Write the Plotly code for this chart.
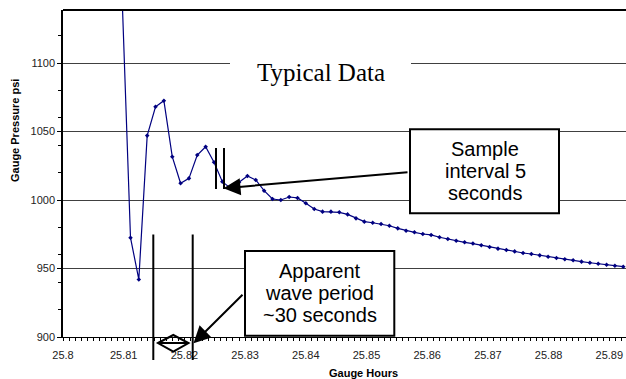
import plotly.graph_objects as go

# ---- data ----
gauge_hours = [
    25.80974, 25.81112, 25.81249, 25.81387, 25.81524, 25.81662, 25.81800, 25.81937,
    25.82075, 25.82212, 25.82350, 25.82488, 25.82625, 25.82763, 25.82900, 25.83038,
    25.83176, 25.83313, 25.83451, 25.83588, 25.83726, 25.83864, 25.84001, 25.84139,
    25.84276, 25.84414, 25.84552, 25.84689, 25.84827, 25.84964, 25.85102, 25.85240,
    25.85377, 25.85515, 25.85652, 25.85790, 25.85928, 25.86065, 25.86203, 25.86340,
    25.86478, 25.86616, 25.86753, 25.86891, 25.87028, 25.87166, 25.87304, 25.87441,
    25.87579, 25.87716, 25.87854, 25.87992, 25.88129, 25.88267, 25.88404, 25.88542,
    25.88680, 25.88817, 25.88955, 25.89092, 25.89230,
]
gauge_pressure = [
    1148, 972.5, 942, 1047, 1068, 1072.5, 1031.6, 1012.2,
    1015.8, 1032.8, 1038.9, 1027.5, 1013.4, 1008.5, 1013, 1017.5,
    1014.6, 1006.8, 1000.7, 1000, 1002.2, 1001.5, 997.6, 993.4,
    991.5, 991.5, 991, 989.5, 986.6, 984.2, 983.4, 982.5,
    981.2, 979.3, 977.6, 976.4, 975.2, 974.5, 972.8, 971.5,
    970.3, 969.1, 968.2, 967, 965.7, 964.5, 963.5, 962.5,
    961.3, 960.6, 959.6, 958.6, 957.7, 956.7, 956, 955,
    954.2, 953.5, 952.8, 952, 951.3,
]
x_tick_vals = [25.8, 25.81, 25.82, 25.83, 25.84, 25.85, 25.86, 25.87, 25.88, 25.89]
x_tick_text = ["25.8", "25.81", "25.82", "25.83", "25.84", "25.85", "25.86", "25.87", "25.88", "25.89"]
y_tick_vals = [900, 950, 1000, 1050, 1100]

W, H = 626, 379
ML, MR, MT, MB = 63, 0, 10, 42
PW, PH = W - ML - MR, H - MT - MB


def px(x):
    return (x - ML) / PW


def py(y):
    return (H - MB - y) / PH


fig = go.Figure()
fig.add_trace(go.Scatter(
    x=gauge_hours, y=gauge_pressure, mode="lines+markers",
    line=dict(color="#000080", width=1.2),
    marker=dict(symbol="diamond", size=3.5, color="#000080"),
    cliponaxis=True, showlegend=False,
))

axis_font = dict(family="Liberation Sans, Arial", size=11, color="#222")
fig.update_layout(
    width=W, height=H, margin=dict(l=ML, r=MR, t=MT, b=MB),
    plot_bgcolor="white", paper_bgcolor="white",
    xaxis=dict(range=[25.8, 25.8 + PW / 6070], tickvals=x_tick_vals, ticktext=x_tick_text,
               showgrid=False, zeroline=False, showline=True, linecolor="black", linewidth=1,
               ticks="outside", ticklen=3, tickcolor="black", tickfont=axis_font,
               ticklabelstandoff=5,
               minor=dict(dtick=0.001, tick0=25.8, ticks="outside", ticklen=3, tickcolor="black")),
    yaxis=dict(range=[900, 900 + PH / 1.37], tickvals=y_tick_vals,
               showgrid=True, gridcolor="#404040", gridwidth=1, zeroline=False,
               showline=True, linecolor="black", linewidth=1.5,
               ticks="outside", ticklen=4, tickcolor="black", tickfont=axis_font,
               minor=dict(dtick=20, tick0=900, ticks="outside", ticklen=3, tickcolor="black", showgrid=False)),
)

shapes = []
# top frame line
shapes.append(dict(type="line", xref="paper", yref="paper", x0=0, x1=1, y0=1, y1=1,
                   line=dict(color="black", width=2)))
# white background behind "Typical Data"
shapes.append(dict(type="rect", xref="paper", yref="paper", x0=px(230), x1=px(411), y0=py(95), y1=py(50),
                   fillcolor="white", line=dict(width=0), layer="above"))
# text boxes
shapes.append(dict(type="rect", xref="paper", yref="paper", x0=px(410), x1=px(559), y0=py(213.3), y1=py(129.3),
                   fillcolor="white", line=dict(color="black", width=2), layer="above"))
shapes.append(dict(type="rect", xref="paper", yref="paper", x0=px(245), x1=px(394.3), y0=py(335.7), y1=py(251),
                   fillcolor="white", line=dict(color="black", width=2), layer="above"))
# sample interval marker lines
for xx in (216, 224):
    shapes.append(dict(type="line", xref="paper", yref="paper", x0=px(xx), x1=px(xx), y0=py(189), y1=py(148),
                       line=dict(color="black", width=2), layer="above"))
# wave period marker lines
for xx in (153.3, 192.7):
    shapes.append(dict(type="line", xref="paper", yref="paper", x0=px(xx), x1=px(xx), y0=py(360), y1=py(234.5),
                       line=dict(color="black", width=2), layer="above"))
# double-headed open arrow
path = (f"M {px(158)},{py(343)} L {px(173.3)},{py(335)} L {px(188.5)},{py(343)} "
        f"L {px(173.3)},{py(351.7)} Z M {px(158)},{py(343)} L {px(188.5)},{py(343)}")
shapes.append(dict(type="path", xref="paper", yref="paper", path=path,
                   line=dict(color="black", width=2), layer="above"))
fig.update_layout(shapes=shapes)

ann = []
box_font = dict(family="Liberation Sans, Arial", size=20, color="black")
ann.append(dict(xref="paper", yref="paper", x=px(321), y=py(72), text="Typical Data", showarrow=False,
                font=dict(family="Liberation Serif, Times New Roman", size=25, color="black"),
                xanchor="center", yanchor="middle"))
for txt, yy in (("Sample", 149.3), ("interval 5", 171.3), ("seconds", 193.3)):
    ann.append(dict(xref="paper", yref="paper", x=px(485), y=py(yy), text=txt, showarrow=False,
                    font=box_font, xanchor="center", yanchor="middle"))
for txt, yy in (("Apparent", 271.4), ("wave period", 293.4), ("~30 seconds", 315.4)):
    ann.append(dict(xref="paper", yref="paper", x=px(319.7), y=py(yy), text=txt, showarrow=False,
                    font=box_font, xanchor="center", yanchor="middle"))
# arrows
for tip, tail in (((223.5, 188.3), (409, 172)), ((193.5, 343.3), (244, 293.3))):
    ann.append(dict(xref="paper", yref="paper", x=px(tip[0]), y=py(tip[1]), text="",
                    showarrow=True, arrowhead=2, arrowsize=1.7, arrowwidth=2, arrowcolor="black",
                    ax=tail[0] - tip[0], ay=tail[1] - tip[1], standoff=0, startstandoff=0))
# axis titles
title_font = dict(family="Liberation Sans, Arial", size=11, color="black")
ann.append(dict(xref="paper", yref="paper", x=px(15), y=py(131), text="<b>Gauge Pressure psi</b>",
                textangle=-90, showarrow=False, font=title_font, xanchor="center", yanchor="middle"))
ann.append(dict(xref="paper", yref="paper", x=px(363), y=py(373), text="<b>Gauge Hours</b>",
                showarrow=False, font=title_font, xanchor="center", yanchor="middle"))
fig.update_layout(annotations=ann)

fig.write_html("out.html")
